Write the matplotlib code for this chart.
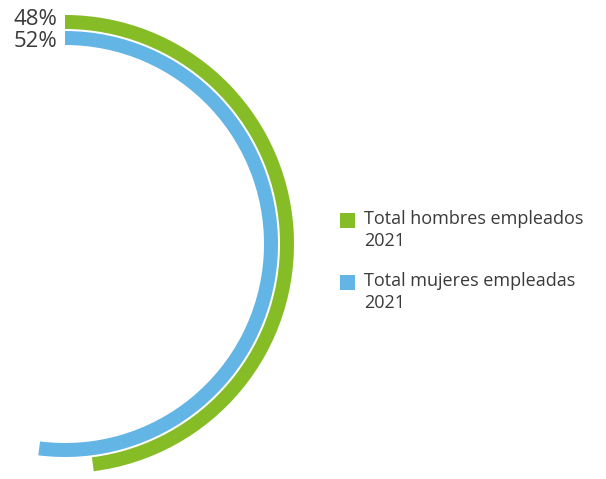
import matplotlib
matplotlib.use("Agg")
import matplotlib.pyplot as plt
from matplotlib.patches import Wedge, Rectangle

# porcentaje de plantilla por sexo, 2021
series = ["Total hombres empleados\n2021", "Total mujeres empleadas\n2021"]
valores = [48, 52]
colores = ["#86BC25", "#62B5E5"]

plt.rcParams["font.family"] = ["Open Sans", "DejaVu Sans"]
gris = "#3a3a3a"

W, H = 606, 479
fig = plt.figure(figsize=(W / 100, H / 100), dpi=100)
ax = fig.add_axes([0, 0, 1, 1])
ax.set_xlim(0, W)
ax.set_ylim(0, H)
ax.set_aspect("equal")
ax.axis("off")

# centro de los arcos (pixeles, origen abajo-izquierda)
cx, cy = 65, H - 244
radios = [229, 213]
grosor = 14
desplaz = [3, -3]  # separa un poco las etiquetas

for v, c, r, d in zip(valores, colores, radios, desplaz):
    ang = v / 100 * 360
    ax.add_patch(Wedge((cx, cy), r, 90 - ang, 90, width=grosor, facecolor=c, edgecolor="none"))
    ax.text(cx - 8, cy + r - grosor / 2 + d, f"{v}%", ha="right", va="center",
            fontsize=16, color=gris)

# leyenda
ley_y = [H - 220, H - 282]
for s, c, y in zip(series, colores, ley_y):
    ax.add_patch(Rectangle((340, y - 7.5), 15, 15, facecolor=c, edgecolor="none"))
    ax.text(364, y + 10, s, ha="left", va="top", fontsize=13, color=gris, linespacing=1.25)

fig.savefig("out.png", dpi=100)
